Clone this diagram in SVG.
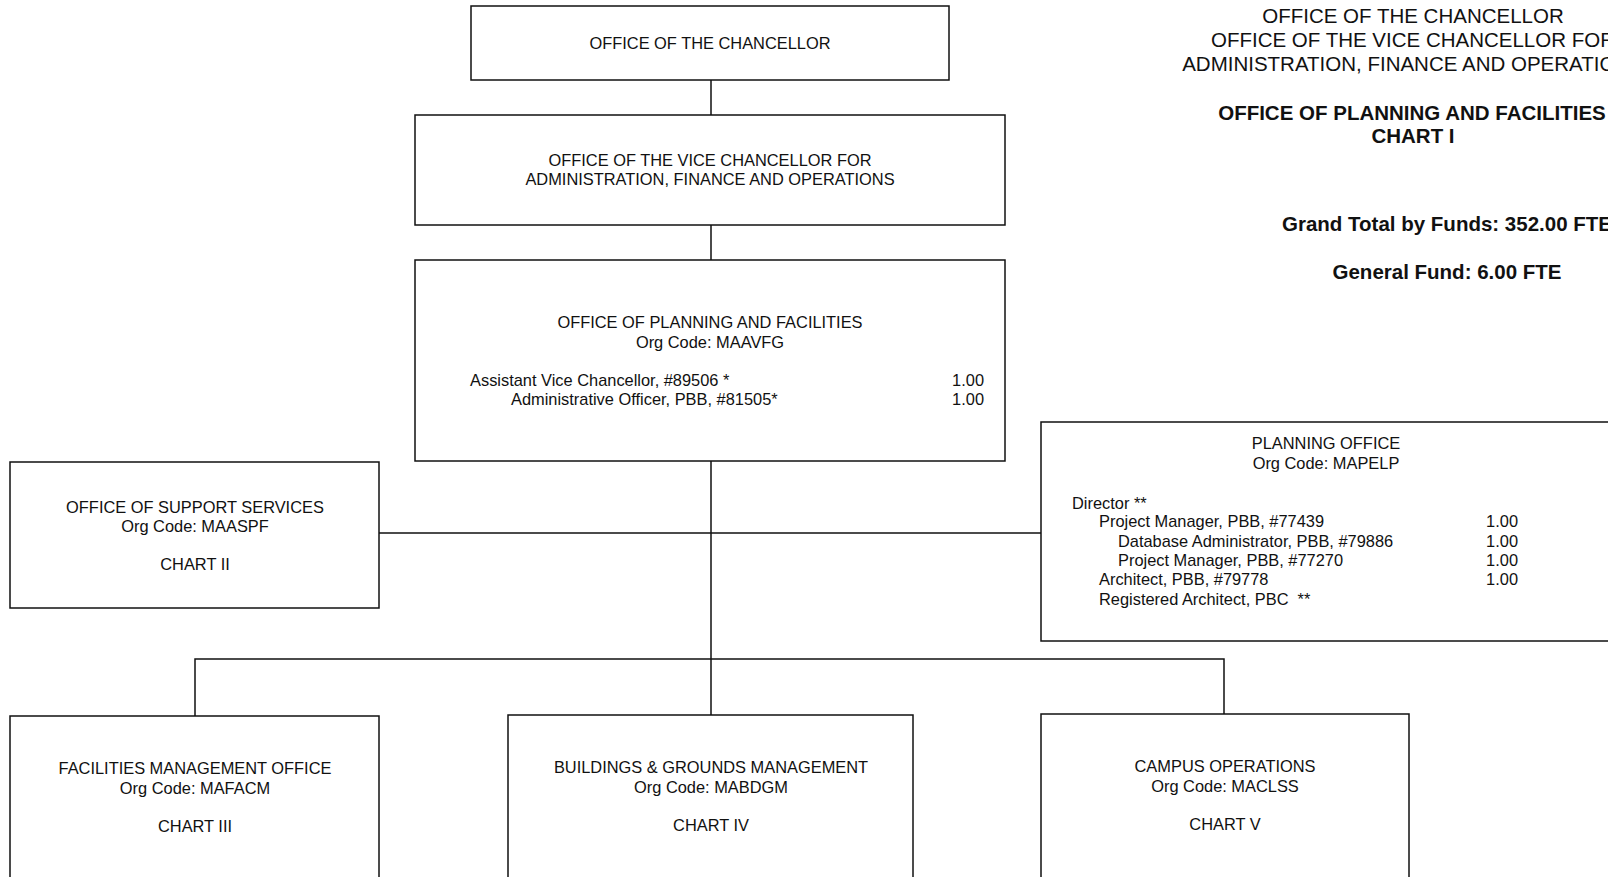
<svg xmlns="http://www.w3.org/2000/svg" width="1608" height="877" viewBox="0 0 1608 877">
<style>
.box{fill:#fff;stroke:#111;stroke-width:1.5}
.ln{fill:none;stroke:#111;stroke-width:1.5}
text{font-family:"Liberation Sans",Arial,sans-serif;font-size:16.4px;fill:#111}
.c{text-anchor:middle}
.r{text-anchor:end}
.h{font-size:20.5px}
.hb{font-size:20.5px;font-weight:bold}
</style>
<rect width="1608" height="877" fill="#fff"/>
<g id="header">
<text class="h c" x="1413" y="23">OFFICE OF THE CHANCELLOR</text>
<text class="h c" x="1413" y="47">OFFICE OF THE VICE CHANCELLOR FOR</text>
<text class="h c" x="1413" y="71">ADMINISTRATION, FINANCE AND OPERATIONS</text>
<text class="hb c" x="1412" y="120">OFFICE OF PLANNING AND FACILITIES</text>
<text class="hb c" x="1413" y="143">CHART I</text>
<text class="hb c" x="1447" y="231">Grand Total by Funds: 352.00 FTE</text>
<text class="hb c" x="1447" y="279">General Fund: 6.00 FTE</text>
</g>
<g id="connectors">
<path class="ln" d="M711 80V115M711 225V260M711 461V715M379 533H1041M195 716V659H1224V714"/>
</g>
<g id="chancellor">
<rect class="box" x="471" y="6" width="478" height="74"/>
<text class="c" x="710" y="49">OFFICE OF THE CHANCELLOR</text>
</g>
<g id="vice-chancellor">
<rect class="box" x="415" y="115" width="590" height="110"/>
<text class="c" x="710" y="166">OFFICE OF THE VICE CHANCELLOR FOR</text>
<text class="c" x="710" y="185">ADMINISTRATION, FINANCE AND OPERATIONS</text>
</g>
<g id="planning-facilities">
<rect class="box" x="415" y="260" width="590" height="201"/>
<text class="c" x="710" y="328">OFFICE OF PLANNING AND FACILITIES</text>
<text class="c" x="710" y="347.5">Org Code: MAAVFG</text>
<text x="470" y="386">Assistant Vice Chancellor, #89506 *</text>
<text x="511" y="405">Administrative Officer, PBB, #81505*</text>
<text class="r" x="984" y="386">1.00</text>
<text class="r" x="984" y="405">1.00</text>
</g>
<g id="support-services">
<rect class="box" x="10" y="462" width="369" height="146"/>
<text class="c" x="195" y="512.5">OFFICE OF SUPPORT SERVICES</text>
<text class="c" x="195" y="532">Org Code: MAASPF</text>
<text class="c" x="195" y="570">CHART II</text>
</g>
<g id="planning-office">
<rect class="box" x="1041" y="422" width="600" height="219"/>
<text class="c" x="1326" y="449">PLANNING OFFICE</text>
<text class="c" x="1326" y="468.5">Org Code: MAPELP</text>
<text x="1072" y="508.5">Director **</text>
<text x="1099" y="527">Project Manager, PBB, #77439</text>
<text x="1118" y="546.5">Database Administrator, PBB, #79886</text>
<text x="1118" y="566">Project Manager, PBB, #77270</text>
<text x="1099" y="585">Architect, PBB, #79778</text>
<text x="1099" y="605">Registered Architect, PBC&#160; **</text>
<text class="r" x="1518" y="527">1.00</text>
<text class="r" x="1518" y="546.5">1.00</text>
<text class="r" x="1518" y="566">1.00</text>
<text class="r" x="1518" y="585">1.00</text>
</g>
<g id="facilities-management">
<rect class="box" x="10" y="716" width="369" height="200"/>
<text class="c" x="195" y="774">FACILITIES MANAGEMENT OFFICE</text>
<text class="c" x="195" y="794">Org Code: MAFACM</text>
<text class="c" x="195" y="832">CHART III</text>
</g>
<g id="buildings-grounds">
<rect class="box" x="508" y="715" width="405" height="200"/>
<text class="c" x="711" y="773">BUILDINGS &amp; GROUNDS MANAGEMENT</text>
<text class="c" x="711" y="793">Org Code: MABDGM</text>
<text class="c" x="711" y="831">CHART IV</text>
</g>
<g id="campus-operations">
<rect class="box" x="1041" y="714" width="368" height="200"/>
<text class="c" x="1225" y="772">CAMPUS OPERATIONS</text>
<text class="c" x="1225" y="792">Org Code: MACLSS</text>
<text class="c" x="1225" y="830">CHART V</text>
</g>
</svg>
